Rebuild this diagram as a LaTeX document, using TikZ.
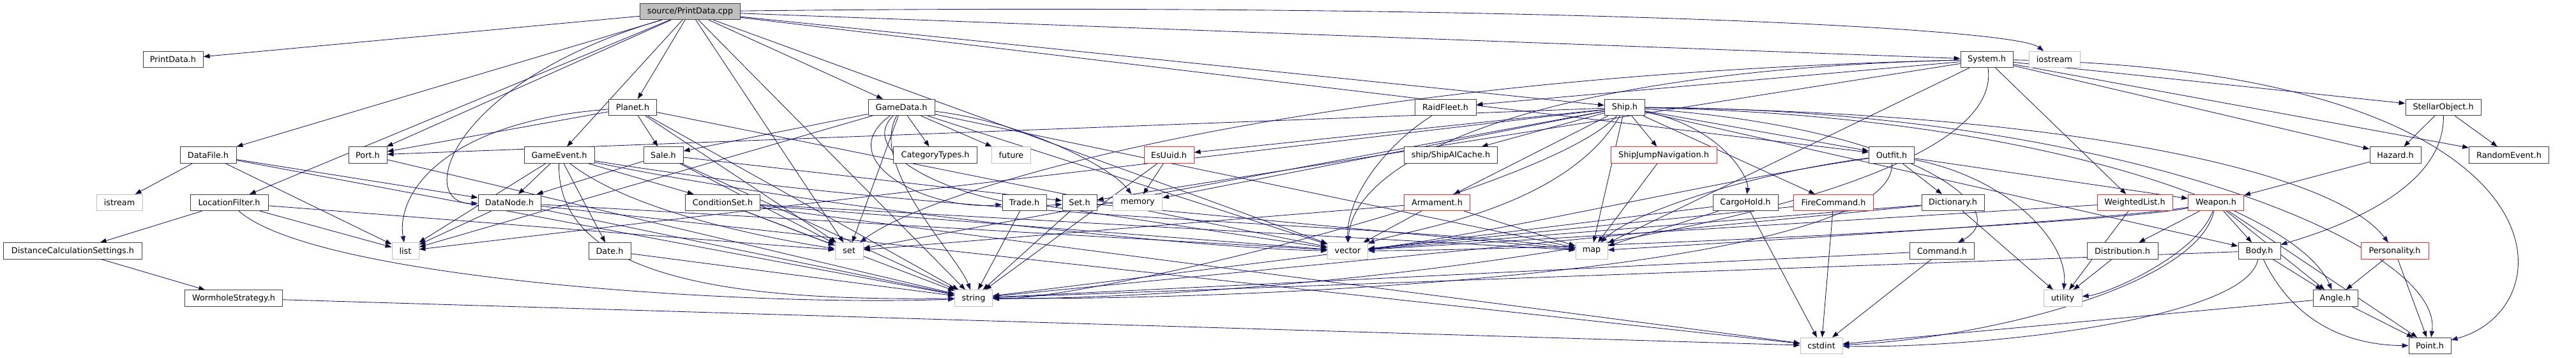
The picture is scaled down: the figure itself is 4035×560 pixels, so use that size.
\documentclass[tikz,border=0pt]{standalone}
\usepackage{fontspec}
\setmainfont{DejaVu Sans}
\usepackage{xcolor}
\usetikzlibrary{arrows.meta}
\definecolor{edgec}{RGB}{25,25,112}
\definecolor{sysc}{RGB}{191,191,191}
\definecolor{rootc}{RGB}{191,191,191}
\definecolor{truncc}{RGB}{255,40,40}
\pgfdeclarelayer{links}
\pgfsetlayers{links,main}

\begin{document}
\begin{tikzpicture}[x=0.75pt,y=-0.75pt,font=\fontsize{9.6}{11}\selectfont,
  hdr/.style={draw=black!75,line width=0.75pt,fill=white,inner sep=0pt,
    minimum height=19pt,minimum width=#1*0.75pt},
  sys/.style={hdr=#1,draw=sysc},
  trunc/.style={hdr=#1,draw=truncc},
  rootf/.style={hdr=#1,fill=rootc},
  dep/.style={draw=edgec,line width=0.65pt,-{Triangle[length=7.5pt,width=5.5pt]}}]
\useasboundingbox (0,0) rectangle (4035,560);
% ---- rank 0: the file itself ----
\node[rootf=157] (root) at (1081,18) {source/PrintData.cpp};
% ---- rank 1 ----
\node[hdr=94] (printdata) at (271,93) {PrintData.h};
\node[hdr=82] (system) at (3112,93) {System.h};
\node[sys=80] (iostream) at (3218,93) {iostream};
% ---- rank 2 ----
\node[hdr=75] (planet) at (991,168) {Planet.h};
\node[hdr=104] (gamedata) at (1412,168) {GameData.h};
\node[hdr=96] (raidfleet) at (2264,168) {RaidFleet.h};
\node[hdr=63] (ship) at (2545,168) {Ship.h};
\node[hdr=118] (stellar) at (3827,168) {StellarObject.h};
% ---- rank 3 ----
\node[hdr=88] (datafile) at (326,242.5) {DataFile.h};
\node[hdr=60] (port) at (576,242.5) {Port.h};
\node[hdr=110] (gameevent) at (876,242.5) {GameEvent.h};
\node[hdr=62] (sale) at (1039,242.5) {Sale.h};
\node[hdr=131] (cattypes) at (1465,242.5) {CategoryTypes.h};
\node[sys=61] (future) at (1584,242.5) {future};
\node[trunc=78] (esuuid) at (1831,242.5) {EsUuid.h};
\node[hdr=146] (aicache) at (2272.5,242.5) {ship/ShipAICache.h};
\node[trunc=166] (jumpnav) at (2606,242.5) {ShipJumpNavigation.h};
\node[hdr=71] (outfit) at (2963,242.5) {Outfit.h};
\node[hdr=80] (hazard) at (3752,242.5) {Hazard.h};
\node[hdr=125] (randomev) at (3930,242.5) {RandomEvent.h};
% ---- rank 4 ----
\node[sys=72] (istream) at (187,317) {istream};
\node[hdr=122] (locfilter) at (359,317) {LocationFilter.h};
\node[hdr=98] (datanode) at (798,317) {DataNode.h};
\node[hdr=117] (condset) at (1132,317) {ConditionSet.h};
\node[hdr=69] (trade) at (1604.5,317) {Trade.h};
\node[hdr=54] (seth) at (1691,317) {Set.h};
\node[sys=77] (memory) at (1782,317) {memory};
\node[trunc=103] (armament) at (2251,317) {Armament.h};
\node[hdr=102] (cargo) at (2734,317) {CargoHold.h};
\node[trunc=125] (firecmd) at (2872,317) {FireCommand.h};
\node[hdr=98] (dictionary) at (3059,317) {Dictionary.h};
\node[trunc=118] (wlist) at (3344,317) {WeightedList.h};
\node[trunc=87] (weapon) at (3471,317) {Weapon.h};
% ---- rank 5 ----
\node[hdr=217] (distcalc) at (114,392.5) {DistanceCalculationSettings.h};
\node[sys=42] (list) at (635,392.5) {list};
\node[hdr=66] (date) at (955,392.5) {Date.h};
\node[sys=44] (stdset) at (1330,392.5) {set};
\node[sys=63] (vector) at (2111,392.5) {vector};
\node[sys=50] (map) at (2493,392.5) {map};
\node[hdr=101] (command) at (3042,392.5) {Command.h};
\node[hdr=111] (distrib) at (3324.5,392.5) {Distribution.h};
\node[hdr=66] (body) at (3539,392.5) {Body.h};
\node[trunc=106] (personality) at (3751,392.5) {Personality.h};
% ---- rank 6 ----
\node[hdr=153] (wormhole) at (366,466.5) {WormholeStrategy.h};
\node[sys=59] (string) at (1525,466.5) {string};
\node[sys=60] (utility) at (3231,466.5) {utility};
\node[hdr=70] (angle) at (3658,466.5) {Angle.h};
% ---- rank 7 ----
\node[sys=66] (cstdint) at (2853,541) {cstdint};
\node[hdr=66] (point) at (3806,541) {Point.h};

\begin{pgfonlayer}{links}
% ---- includes of the file itself ----
\path[dep] (root) edge (printdata) edge (datafile) edge (locfilter) edge (port)
  edge (gameevent) edge (planet) edge (stdset) edge (gamedata) edge (ship)
  edge (system) edge (outfit) edge (vector);
\draw[dep] (root) .. controls (700,130) and (650,320) .. (datanode);
\draw[dep] (root) .. controls (2300,4) and (3150,40) .. (iostream);
\path[dep] (root) edge (string);
% ---- left part ----
\path[dep] (datafile) edge (istream) edge (datanode) edge (list) edge (string);
\path[dep] (locfilter) edge (distcalc) edge (list) edge (stdset);
\draw[dep] (locfilter) .. controls (500,440) and (1200,480) .. (string);
\path[dep] (distcalc) edge (wormhole);
\path[dep] (wormhole) edge (cstdint);
\path[dep] (port) edge (string);
\path[dep] (planet) edge (port) edge (sale) edge (stdset) edge (string) edge (vector);
\draw[dep] (planet) .. controls (700,190) and (620,300) .. (list);
\path[dep] (sale) edge (datanode) edge (seth) edge (stdset) edge (string);
\path[dep] (gameevent) edge (datanode) edge (condset) edge (date) edge (list);
\draw[dep] (gameevent) .. controls (1000,340) and (1250,380) .. (stdset);
\draw[dep] (gameevent) .. controls (870,450) and (1200,470) .. (string);
\draw[dep] (gameevent) .. controls (1300,330) and (1900,390) .. (vector);
\draw[dep] (gameevent) .. controls (1500,345) and (2200,350) .. (map);
\path[dep] (condset) edge (stdset) edge (string) edge (vector) edge (map) edge (cstdint);
\path[dep] (datanode) edge (list) edge (string) edge (vector) edge (cstdint);
\path[dep] (date) edge (string);
% ---- GameData.h and its neighbours ----
\path[dep] (gamedata) edge (cattypes) edge (future) edge (sale) edge (stdset)
  edge (vector) edge (map) edge (list);
\draw[dep] (gamedata) .. controls (1300,250) and (1450,330) .. (trade);
\draw[dep] (gamedata) .. controls (1330,250) and (1550,330) .. (seth);
\draw[dep] (gamedata) .. controls (1600,190) and (1740,260) .. (memory);
\draw[dep] (gamedata) .. controls (1360,260) and (1500,400) .. (string);
\path[dep] (trade) edge (string) edge (vector);
\path[dep] (seth) edge (string) edge (map);
\path[dep] (esuuid) edge (memory) edge (string);
\draw[dep] (raidfleet) .. controls (2180,220) and (2110,300) .. (vector);
% ---- Ship.h ----
\path[dep] (ship) edge (port) edge (aicache) edge (armament) edge (esuuid)
  edge (memory) edge (jumpnav) edge (outfit) edge (firecmd) edge (body)
  edge (list) edge (map) edge (stdset);
\draw[dep] (ship) .. controls (2700,200) and (2740,280) .. (cargo);
\draw[dep] (ship) .. controls (3000,200) and (3160,330) .. (command);
\draw[dep] (ship) .. controls (3200,175) and (3650,260) .. (personality);
\draw[dep] (ship) .. controls (3200,180) and (3600,330) .. (angle);
\draw[dep] (ship) .. controls (3300,170) and (3830,380) .. (point);
\draw[dep] (ship) .. controls (2420,300) and (1700,470) .. (string);
\draw[dep] (ship) .. controls (2450,330) and (2200,360) .. (vector);
\path[dep] (jumpnav) edge (map);
\path[dep] (armament) edge (vector) edge (map) edge (stdset);
\path[dep] (cargo) edge (map) edge (string) edge (cstdint);
\path[dep] (firecmd) edge (vector) edge (cstdint);
% ---- Outfit.h and weapons ----
\path[dep] (outfit) edge (dictionary) edge (weapon);
\draw[dep] (outfit) .. controls (2750,270) and (2560,330) .. (map);
\draw[dep] (outfit) .. controls (2700,280) and (2320,370) .. (vector);
\draw[dep] (outfit) .. controls (2970,420) and (2000,470) .. (string);
\draw[dep] (outfit) .. controls (3150,280) and (3240,380) .. (utility);
\path[dep] (dictionary) edge (utility) edge (string) edge (vector);
\path[dep] (command) edge (cstdint) edge (string);
\path[dep] (wlist) edge (utility) edge (vector);
\path[dep] (distrib) edge (utility);
\path[dep] (weapon) edge (distrib) edge (body) edge (angle) edge (point);
\draw[dep] (weapon) .. controls (3300,345) and (2700,380) .. (map);
\draw[dep] (weapon) .. controls (3300,350) and (2500,390) .. (vector);
\draw[dep] (weapon) .. controls (3440,400) and (3300,460) .. (utility);
\draw[dep] (weapon) .. controls (3440,450) and (3100,530) .. (cstdint);
% ---- System.h ----
\path[dep] (system) edge (raidfleet) edge (seth) edge (map) edge (stellar)
  edge (hazard) edge (randomev) edge (wlist);
\draw[dep] (system) .. controls (2400,110) and (2120,250) .. (vector);
\draw[dep] (system) .. controls (2000,120) and (1450,300) .. (stdset);
\draw[dep] (system) .. controls (3150,350) and (2000,470) .. (string);
\draw[dep] (system) .. controls (4030,110) and (4030,480) .. (point);
\path[dep] (stellar) edge (hazard) edge (randomev);
\draw[dep] (stellar) .. controls (3830,300) and (3650,360) .. (body);
\path[dep] (hazard) edge (weapon);
% ---- geometry ----
\path[dep] (body) edge (angle) edge (string);
\draw[dep] (body) .. controls (3600,520) and (3700,540) .. (point);
\draw[dep] (body) .. controls (3520,500) and (3100,545) .. (cstdint);
\path[dep] (personality) edge (angle) edge (point);
\path[dep] (angle) edge (point) edge (cstdint);
\end{pgfonlayer}
\end{tikzpicture}
\end{document}
